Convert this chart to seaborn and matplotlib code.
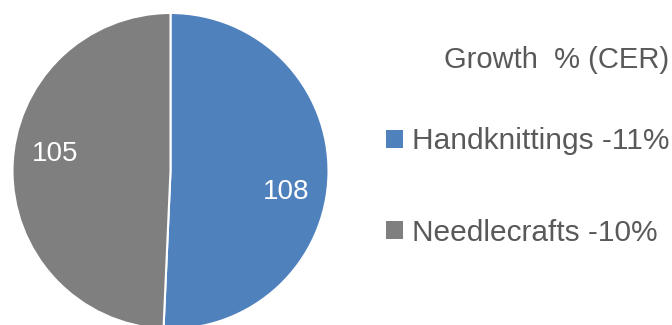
import matplotlib
matplotlib.use("Agg")
import matplotlib.pyplot as plt
from matplotlib.patches import Patch
import seaborn as sns

categories = ["Handknittings", "Needlecrafts"]
values = [108, 105]
growth = ["-11%", "-10%"]
legend_title = "Growth  % (CER)"

sns.set_theme(style="white")
plt.rcParams["font.family"] = ["Liberation Sans", "DejaVu Sans"]

colors = ["#4F81BD", "#7F7F7F"]
text_gray = "#595959"

W, H = 672, 325
fig = plt.figure(figsize=(W / 100, H / 100), dpi=100)
cx, cy, r = 170.5, 171, 158
ax = fig.add_axes([(cx - r) / W, (H - cy - r) / H, 2 * r / W, 2 * r / H])
wedges, _ = ax.pie(values, colors=colors, startangle=90, counterclock=False,
                   radius=1, wedgeprops=dict(edgecolor="white", linewidth=1.5))
ax.set_xlim(-1, 1)
ax.set_ylim(-1, 1)
ax.set_aspect("equal")
ax.axis("off")

label_pos = [(0.73, -0.13), (-0.73, 0.11)]
for v, (x, y) in zip(values, label_pos):
    ax.text(x, y, str(v), color="white", fontsize=20, ha="center", va="center")

handles = [Patch(facecolor=c, edgecolor="none") for c in colors]
labels = [f"{c} {g}" for c, g in zip(categories, growth)]
leg = fig.legend(handles, labels, title=legend_title, loc="upper right",
                 bbox_to_anchor=(684 / W, 1 - 31.5 / H), frameon=False,
                 fontsize=21.5, title_fontsize=21, labelcolor=text_gray,
                 handlelength=0.55, handleheight=0.55, handletextpad=0.3,
                 labelspacing=2.12, alignment="right", borderpad=0)
leg.get_title().set_color(text_gray)
leg._legend_box.sep = 38

fig.savefig("out.png", dpi=100)
